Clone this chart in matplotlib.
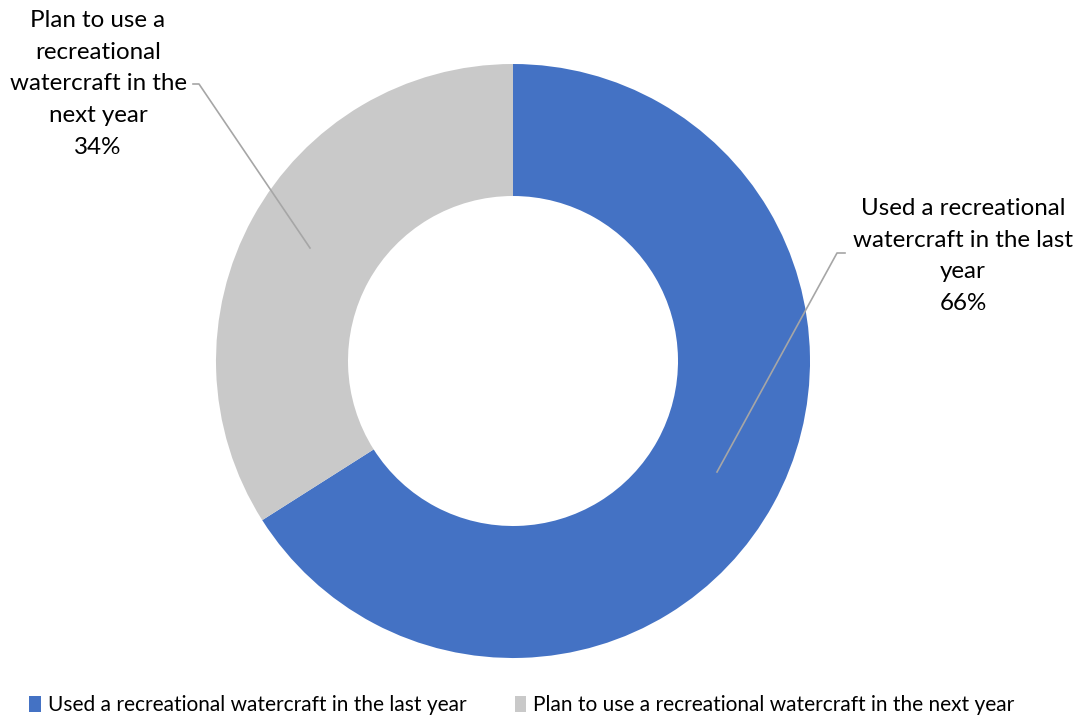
import matplotlib
matplotlib.use("Agg")
import matplotlib.pyplot as plt
from matplotlib.patches import Patch

# --- datos ---
categories = ["Used a recreational watercraft in the last year",
              "Plan to use a recreational watercraft in the next year"]
shares = [66, 34]
label_texts = ["Used a recreational\nwatercraft in the last\nyear\n66%",
               "Plan to use a\nrecreational\nwatercraft in the\nnext year\n34%"]
colors = ["#4472C4", "#C9C9C9"]

W, H = 1076, 716
plt.rcParams['font.family'] = ['Lato', 'DejaVu Sans']

fig = plt.figure(figsize=(W / 100, H / 100), dpi=100)
ax = fig.add_axes([0, 0, 1, 1])

cx, cy, r = 513, H - 361, 297
ax.pie(shares, colors=colors, startangle=90, counterclock=False,
       center=(cx, cy), radius=r, frame=True,
       wedgeprops=dict(width=132, edgecolor='none'))
ax.set_xlim(0, W)
ax.set_ylim(0, H)
ax.set_aspect('equal')
ax.axis('off')

# etiquetas con líneas guía
lead = "#A6A6A6"
ax.text(963, H - 256, label_texts[0], ha='center', va='center',
        fontsize=17.4, linespacing=1.63, color='#000000')
ax.plot([845, 837, 717], [H - 253, H - 253, H - 472], color=lead, lw=1.2)

ax.text(98, H - 84, label_texts[1], ha='center', va='center',
        fontsize=17.4, linespacing=1.63, color='#000000')
ax.plot([193, 199, 310], [H - 84, H - 84, H - 248], color=lead, lw=1.2)

handles = [Patch(facecolor=c, edgecolor='none') for c in colors]
fig.legend(handles, categories, loc='center', bbox_to_anchor=(0.485, 1 - 705 / H),
           ncol=2, frameon=False, fontsize=15.0, handlelength=0.55,
           handleheight=0.8, handletextpad=0.35, columnspacing=2.3)

fig.savefig("out.png", dpi=100)
